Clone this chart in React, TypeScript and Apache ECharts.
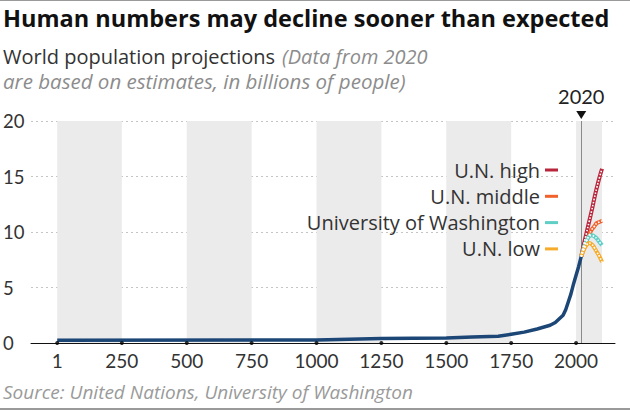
import React, { useEffect, useRef } from "react";
import * as echarts from "echarts";

const histYears = [1, 1000, 1250, 1500, 1600, 1700, 1750, 1800, 1850, 1900, 1920, 1950, 1960, 1970, 1980, 1990, 2000, 2010, 2020];
const histValues = [0.25, 0.28, 0.4, 0.46, 0.55, 0.6, 0.79, 0.98, 1.26, 1.6, 1.85, 2.5, 3.0, 3.7, 4.4, 5.3, 6.1, 6.9, 7.8];

const projYears = [2020, 2030, 2040, 2050, 2060, 2070, 2080, 2090, 2100];
const unHigh = [7.8, 8.9, 9.9, 10.9, 11.9, 13.0, 14.0, 14.9, 15.7];
const unMiddle = [7.8, 8.5, 9.2, 9.7, 10.2, 10.5, 10.8, 10.9, 11.0];
const uw = [7.8, 8.6, 9.2, 9.6, 9.7, 9.6, 9.4, 9.1, 8.8];
const unLow = [7.8, 8.4, 8.8, 9.0, 8.9, 8.6, 8.2, 7.8, 7.3];

const xTicks = [1, 250, 500, 750, 1000, 1250, 1500, 1750, 2000];
const bands = [[1, 250], [500, 750], [1000, 1250], [1500, 1750], [2000, 2100]];
const markYear = 2020;

const FONT = "Lato, 'Noto Sans', sans-serif";
const TFONT = "'Open Sans', 'Noto Sans', sans-serif";

const projSeries = [
  { name: "U.N. high", data: unHigh, color: "#b8263c" },
  { name: "U.N. middle", data: unMiddle, color: "#f2612b" },
  { name: "University of Washington", data: uw, color: "#5fcfc6" },
  { name: "U.N. low", data: unLow, color: "#f6ab2a" },
];

export default function App() {
  const ref = useRef<HTMLDivElement>(null);
  useEffect(() => {
    if (!ref.current) return;
    const chart = echarts.init(ref.current, null, { renderer: "svg" });
    const zip = (xs: number[], ys: number[]) => xs.map((x, i) => [x, ys[i]]);
    const series: any[] = [
      {
        name: "World",
        type: "line",
        data: zip(histYears, histValues),
        showSymbol: false,
        lineStyle: { color: "#1b4676", width: 3.5 },
        itemStyle: { color: "#1b4676" },
        z: 5,
        markArea: {
          silent: true,
          itemStyle: { color: "#ebebeb" },
          data: bands.map((b) => [{ xAxis: b[0], yAxis: 0 }, { xAxis: b[1], yAxis: 20 }]),
        },
        markLine: {
          silent: true,
          symbol: ["none", "none"],
          label: { show: false },
          lineStyle: { color: "#8a8a8a", width: 1, type: "solid" },
          data: [{ xAxis: markYear }],
        },
        markPoint: {
          silent: true,
          symbol: "triangle",
          symbolRotate: 180,
          symbolSize: [10, 8],
          symbolOffset: [0, -6],
          itemStyle: { color: "#111" },
          label: {
            show: true,
            position: "top",
            distance: 5,
            formatter: String(markYear),
            color: "#222",
            fontSize: 20,
            fontFamily: FONT,
          },
          data: [{ coord: [markYear, 20] }],
        },
      },
    ];
    projSeries.forEach((p) => {
      series.push({
        name: p.name,
        type: "line",
        data: zip(projYears, p.data),
        showSymbol: false,
        smooth: true,
        color: p.color,
        lineStyle: { color: p.color, width: 4 },
        z: 6,
      });
      series.push({
        name: p.name + "_inner",
        type: "line",
        data: zip(projYears, p.data),
        showSymbol: false,
        smooth: true,
        lineStyle: { color: "#ffffff", width: 1.6, type: [1.6, 1.6] },
        z: 7,
        silent: true,
      });
    });
    series.push({
      name: "ticks",
      type: "scatter",
      data: xTicks.map((t) => [t, 0]),
      symbolSize: 4,
      itemStyle: { color: "#000" },
      clip: false,
      z: 10,
      silent: true,
    });

    chart.setOption({
      animation: false,
      grid: { left: 30, right: 15, top: 121, bottom: 67 },
      xAxis: {
        type: "value",
        min: -100,
        max: 2150,
        axisLine: { show: true, lineStyle: { color: "#111", width: 1 } },
        axisTick: { show: false, customValues: xTicks },
        splitLine: { show: false },
        axisLabel: {
          customValues: xTicks,
          formatter: (v: number) => String(v),
          color: "#333",
          fontSize: 19,
          fontFamily: FONT,
          margin: 8,
        },
      },
      yAxis: {
        type: "value",
        min: 0,
        max: 20,
        interval: 5,
        axisLine: { show: false },
        axisTick: { show: false },
        splitLine: { show: true, lineStyle: { color: "#c4c4c4", type: [2, 3], width: 1 } },
        axisLabel: {
          color: "#333",
          fontSize: 18.5,
          fontFamily: FONT,
          align: "left",
          margin: 28,
        },
      },
      legend: {
        data: projSeries.map((p) => p.name),
        orient: "vertical",
        right: 72,
        top: 160,
        padding: 0,
        align: "right",
        icon: "rect",
        itemWidth: 13,
        itemHeight: 3,
        itemGap: 6.3,
        selectedMode: false,
        textStyle: { color: "#333", fontSize: 20, fontFamily: TFONT, padding: [0, 0, 0, 0] },
      },
      graphic: [
        { type: "rect", shape: { x: 0, y: 0, width: 630, height: 1 }, style: { fill: "#9a9a9a" } },
        { type: "rect", shape: { x: 0, y: 408, width: 630, height: 2 }, style: { fill: "#9a9a9a" } },
        {
          type: "text",
          left: 3,
          top: 6,
          style: { text: "Human numbers may decline sooner than expected", fill: "#111", font: `bold 23.5px ${TFONT}` },
        },
        {
          type: "text",
          left: 3,
          top: 46,
          style: {
            text: "{a|World population projections}{b|(Data from 2020}",
            rich: {
              a: { fill: "#333", fontSize: 20, fontFamily: TFONT, lineHeight: 20 },
              b: { fill: "#8c8c8c", fontSize: 20, fontFamily: TFONT, fontStyle: "italic", lineHeight: 20, padding: [0, 0, 0, 7] },
            },
          },
        },
        {
          type: "text",
          left: 3,
          top: 71,
          style: {
            text: "are based on estimates, in billions of people)",
            fill: "#8c8c8c",
            fontSize: 20.5,
            fontFamily: TFONT,
            fontStyle: "italic",
            lineHeight: 20,
          },
        },
        {
          type: "text",
          left: 3,
          top: 382,
          style: { text: "Source: United Nations, University of Washington", fill: "#9a9a9a", font: `italic 19px ${TFONT}` },
        },
      ],
      series,
    });
    return () => chart.dispose();
  }, []);
  return <div ref={ref} style={{ position: "absolute", left: 0, top: 0, width: 630, height: 410 }} />;
}
